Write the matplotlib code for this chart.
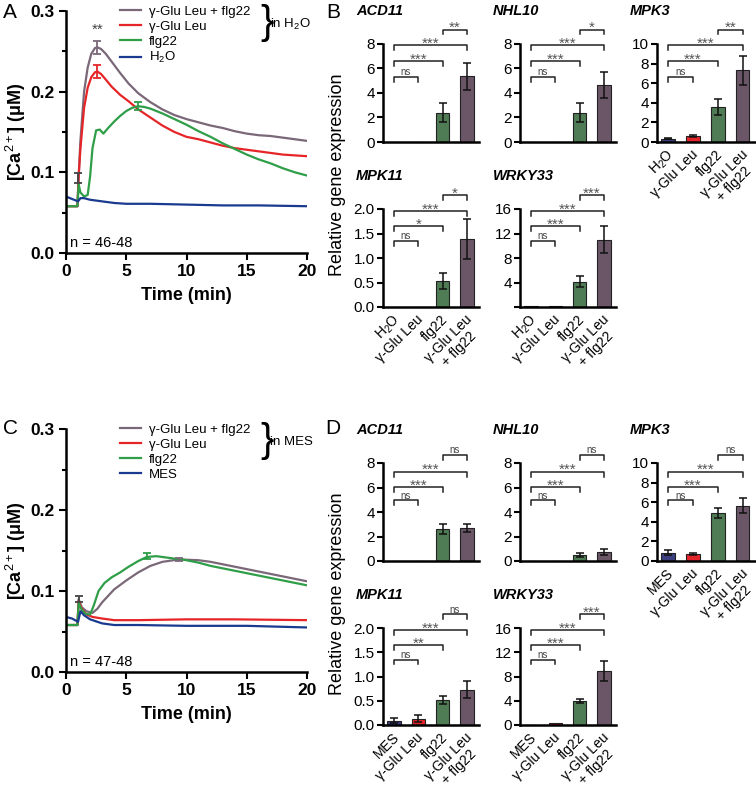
import matplotlib
matplotlib.use('Agg')
import matplotlib.pyplot as plt
import matplotlib.transforms as mtransforms

plt.rcParams['font.family'] = ['Liberation Sans', 'DejaVu Sans']
plt.rcParams['mathtext.fontset'] = 'custom'
plt.rcParams['mathtext.rm'] = 'Liberation Sans'
plt.rcParams['mathtext.it'] = 'Liberation Sans:italic'
plt.rcParams['mathtext.bf'] = 'Liberation Sans:bold'

# ---- time course data ----
# panel A, in H2O
tA_gxf = [0, 0.95, 1.05, 1.2, 1.5, 1.8, 2.1, 2.4, 2.6, 2.9, 3.3, 3.8, 4.5, 5.2, 6, 7, 8, 9, 10, 11, 12, 13, 14, 15, 16, 17, 18, 19, 20]
yA_gxf = [.058, .058, .095, .14, .2, .23, .247, .254, .255, .253, .247, .237, .223, .21, .198, .187, .178, .171, .166, .162, .158, .155, .151, .148, .146, .145, .143, .141, .139]
tA_glu = [0, 0.95, 1.05, 1.2, 1.5, 1.8, 2.1, 2.4, 2.6, 2.9, 3.3, 3.8, 4.5, 5.2, 6, 7, 8, 9, 10, 11, 12, 13, 14, 15, 16, 17, 18, 19, 20]
yA_glu = [.058, .058, .095, .13, .18, .205, .218, .224, .225, .222, .215, .206, .196, .188, .178, .168, .158, .150, .144, .141, .137, .133, .130, .128, .126, .124, .122, .121, .120]
tA_flg = [0, 0.95, 1.05, 1.2, 1.5, 1.8, 2.0, 2.2, 2.5, 2.8, 3.1, 3.5, 4, 4.5, 5, 5.5, 6, 6.5, 7, 8, 9, 10, 11, 12, 13, 14, 15, 16, 17, 18, 19, 20]
yA_flg = [.058, .058, .085, .075, .07, .072, .095, .13, .152, .153, .148, .155, .163, .17, .176, .18, .182, .181, .179, .173, .166, .159, .151, .144, .136, .129, .122, .116, .111, .105, .100, .096]
tA_ctl = [0, 0.5, 1.0, 1.2, 1.5, 2, 3, 4, 5, 7, 10, 13, 16, 20]
yA_ctl = [.07, .067, .064, .068, .068, .066, .064, .062, .061, .061, .060, .059, .059, .058]

# panel C, in MES
tC_gxf = [0, 0.95, 1.05, 1.3, 1.7, 2.2, 2.6, 3.0, 3.5, 4, 5, 6, 7, 8, 9.4, 11, 12, 13, 14, 15, 16, 17, 18, 19, 20]
yC_gxf = [.058, .058, .09, .08, .075, .073, .078, .086, .094, .102, .113, .123, .131, .136, .139, .138, .136, .133, .130, .127, .124, .121, .118, .115, .112]
tC_glu = [0, 0.95, 1.05, 1.3, 1.7, 2.2, 3, 4, 6, 10, 14, 20]
yC_glu = [.058, .058, .088, .078, .071, .068, .066, .064, .064, .065, .065, .064]
tC_flg = [0, 0.95, 1.05, 1.3, 1.6, 2.0, 2.3, 2.7, 3.2, 3.8, 4.5, 5.2, 6.0, 6.7, 7.5, 8.5, 10, 11, 12, 13, 14, 15, 16, 17, 18, 19, 20]
yC_flg = [.058, .058, .085, .077, .072, .071, .082, .1, .11, .117, .123, .13, .137, .142, .143, .141, .138, .135, .131, .128, .125, .122, .119, .116, .113, .110, .107]
tC_ctl = [0, 0.5, 1.0, 1.2, 1.5, 2, 3, 4, 6, 10, 15, 20]
yC_ctl = [.068, .066, .062, .075, .07, .065, .06, .058, .058, .057, .057, .055]

# error bars: (time, mean, sem) and which colour they take
errA = [(2.6, .255, .008), (2.6, .225, .008), (6.0, .182, .005), (1.0, .093, .006)]
errA_col = ['#7a6878', '#e52528', '#2f9e48', '#444444']
errC = [(6.7, .143, .004), (9.4, .139, .002), (1.1, .090, .004)]
errC_col = ['#2f9e48', '#7a6878', '#444444']

line_labels = ['γ-Glu Leu + flg22', 'γ-Glu Leu', 'flg22']
line_colors = ['#7a6878', '#e52528', '#2f9e48', '#1a3a8f']

# ---- qPCR data ----
genes = ['ACD11', 'NHL10', 'MPK3', 'MPK11', 'WRKY33']
b_mean = {'ACD11': [0, 0, 2.4, 5.35], 'NHL10': [0, 0.03, 2.4, 4.65], 'MPK3': [0.35, 0.6, 3.55, 7.3],
          'MPK11': [0, 0, 0.53, 1.38], 'WRKY33': [0.1, 0.2, 4.1, 11.0]}
b_err = {'ACD11': [0, 0, 0.8, 1.1], 'NHL10': [0, 0, 0.75, 1.05], 'MPK3': [0.05, 0.08, 0.8, 1.5],
         'MPK11': [0, 0, 0.16, 0.41], 'WRKY33': [0, 0, 0.9, 2.2]}
b_sig = {'ACD11': ['ns', '***', '***', '**'], 'NHL10': ['ns', '***', '***', '*'], 'MPK3': ['ns', '***', '***', '**'],
         'MPK11': ['ns', '*', '***', '*'], 'WRKY33': ['ns', '***', '***', '***']}
d_mean = {'ACD11': [0, 0, 2.6, 2.7], 'NHL10': [0, 0, 0.5, 0.75], 'MPK3': [0.85, 0.7, 4.9, 5.65],
          'MPK11': [0.09, 0.13, 0.52, 0.73], 'WRKY33': [0.05, 0.25, 3.9, 8.9]}
d_err = {'ACD11': [0, 0, 0.4, 0.3], 'NHL10': [0, 0, 0.15, 0.25], 'MPK3': [0.25, 0.1, 0.5, 0.75],
         'MPK11': [0.05, 0.07, 0.08, 0.18], 'WRKY33': [0, 0, 0.35, 1.6]}
d_sig = {'ACD11': ['ns', '***', '***', 'ns'], 'NHL10': ['ns', '***', '***', 'ns'], 'MPK3': ['ns', '***', '***', 'ns'],
         'MPK11': ['ns', '**', '***', 'ns'], 'WRKY33': ['ns', '***', '***', '***']}
yticks = {'ACD11': [0, 2, 4, 6, 8], 'NHL10': [0, 2, 4, 6, 8], 'MPK3': [0, 2, 4, 6, 8, 10],
          'MPK11': [0, 0.5, 1.0, 1.5, 2.0], 'WRKY33': [0, 4, 8, 12, 16]}
pairs = [(0, 1), (0, 2), (0, 3), (2, 3)]
bar_colors = ['#3b3f80', '#e3242b', '#4f7b55', '#6b5667']

W, H = 756, 796
fig = plt.figure(figsize=(W / 100, H / 100), dpi=100)


def add_ax(left, top, right, bottom):
    return fig.add_axes([left / W, 1 - bottom / H, (right - left) / W, (bottom - top) / H])


def ftext(x, y, s, **kw):
    fig.text(x / W, 1 - y / H, s, **kw)


def shift(dx, dy):
    return mtransforms.ScaledTranslation(dx / 100, dy / 100, fig.dpi_scale_trans)


def time_panel(top, bottom, curves, errs, err_cols, medium, nlabel):
    ax = add_ax(66, top, 307, bottom)
    for (t, y), c in zip(curves, line_colors):
        ax.plot(t, y, color=c, lw=1.6, solid_joinstyle='round')
    for (t, m, e), c in zip(errs, err_cols):
        ax.errorbar([t], [m], yerr=[e], color=c, capsize=3, lw=1.3, capthick=1.3)
    ax.set_xlim(0, 20)
    ax.set_ylim(0, 0.3)
    ax.set_xticks([0, 5, 10, 15, 20])
    ax.set_yticks([0.0, 0.1, 0.2, 0.3])
    ax.set_yticks([0.05, 0.15, 0.25], minor=True)
    ax.yaxis.set_major_formatter(matplotlib.ticker.FormatStrFormatter('%.1f'))
    for s in ['top', 'right']:
        ax.spines[s].set_visible(False)
    for s in ['left', 'bottom']:
        ax.spines[s].set_linewidth(1.8)
    ax.tick_params(width=1.5, length=5, labelsize=12.5, pad=3)
    ax.tick_params(which='minor', width=1.5, length=3)
    for lab in ax.get_xticklabels() + ax.get_yticklabels():
        lab.set_fontweight('bold')
    ax.set_xlabel('Time (min)', fontsize=13, fontweight='bold', labelpad=6)
    ax.set_ylabel(r'[Ca$^{2+}$] (μM)', fontsize=13, fontweight='bold', labelpad=2)
    ax.text(0.3, 0.004, nlabel, fontsize=10.5, va='bottom', ha='left')
    labels = line_labels + [medium]
    handles = ax.get_lines()[:4]
    ax.legend(handles, labels, loc='upper left', bbox_to_anchor=(0.225, 1.022), frameon=False,
              fontsize=9.5, handlelength=1.6, handletextpad=0.55, labelspacing=0.2,
              borderpad=0, borderaxespad=0)
    ax.text(0.805, 0.952, '}', transform=ax.transAxes, fontsize=29, va='center', ha='left')
    ax.text(0.848, 0.945, 'in ' + medium, transform=ax.transAxes, fontsize=9.5, va='center', ha='left')
    return ax


axA = time_panel(11, 253, [(tA_gxf, yA_gxf), (tA_glu, yA_glu), (tA_flg, yA_flg), (tA_ctl, yA_ctl)],
                 errA, errA_col, r'H$_2$O', 'n = 46-48')
axA.text(2.6, 0.277, '**', ha='center', va='center', fontsize=11, color='#444444')
axC = time_panel(429, 672, [(tC_gxf, yC_gxf), (tC_glu, yC_glu), (tC_flg, yC_flg), (tC_ctl, yC_ctl)],
                 errC, errC_col, 'MES', 'n = 47-48')

col_left = [383, 520, 657]
col_right = [479, 616, 755]
layout = [(0, 0, 'ACD11'), (0, 1, 'NHL10'), (0, 2, 'MPK3'), (1, 0, 'MPK11'), (1, 1, 'WRKY33')]


def bar_panel(rows, means, errs, sigs, ctl_name, heights, wrky_zero):
    xlabels = [ctl_name, 'γ-Glu Leu', 'flg22', 'γ-Glu Leu']
    for r, c, g in layout:
        top, bottom = rows[r]
        ax = add_ax(col_left[c], top, col_right[c], bottom)
        x = [0, 1, 2, 3]
        ax.bar(x, means[g], width=0.55, color=bar_colors, edgecolor='#222222', lw=0.8, zorder=2)
        for xi, m, e in zip(x, means[g], errs[g]):
            if e > 0:
                ax.errorbar([xi], [m], yerr=[e], color='#111111', capsize=3, lw=1.1, capthick=1.1, zorder=3)
        ax.set_xlim(-0.45, 3.5)
        ax.set_ylim(0, yticks[g][-1])
        ax.set_yticks(yticks[g])
        if g == 'MPK11':
            ax.set_yticklabels(['%.1f' % v for v in yticks[g]])
        elif g == 'WRKY33' and not wrky_zero:
            ax.set_yticklabels([''] + [str(v) for v in yticks[g][1:]])
        for s in ['top', 'right']:
            ax.spines[s].set_visible(False)
        for s in ['left', 'bottom']:
            ax.spines[s].set_linewidth(1.8)
        ax.tick_params(axis='y', width=1.5, length=4, labelsize=11, pad=2)
        ax.tick_params(axis='x', length=0, labelsize=10, pad=0)
        trans = mtransforms.blended_transform_factory(ax.transData, ax.transAxes)
        if r == 1 or c == 2:
            ax.set_xticks(x)
            ax.set_xticklabels(xlabels, rotation=45, ha='right', va='top', rotation_mode='anchor')
            for lab in ax.get_xticklabels():
                lab.set_transform(lab.get_transform() + shift(-2, -5))
            # second line of the last label, centred under the first one
            ax.text(3, 0, '+ flg22', transform=trans + shift(-2 + 3.9, -5 - 16.6), rotation=45,
                    rotation_mode='anchor', ha='right', va='top', fontsize=10)
        else:
            ax.set_xticks([])
        hts = heights[r]
        for (i, j), h, s in zip(pairs, hts, sigs[g]):
            ax.plot([i, i, j, j], [h - 0.05, h, h, h - 0.05], color='#222222', lw=1.1,
                    transform=trans, clip_on=False)
            if s == 'ns':
                ax.text((i + j) / 2, h + 0.015, s, transform=trans, ha='center', va='baseline',
                        fontsize=7, color='#444444')
            else:
                ax.text((i + j) / 2, h - 0.025, s, transform=trans, ha='center', va='baseline',
                        fontsize=11, color='#555555')
        ftext(col_left[c] - 27, top - 33, g, fontsize=10.5, fontstyle='italic', fontweight='bold',
              va='center', ha='left')


hB = [[0.667, 0.828, 0.986, 1.147], [0.675, 0.825, 0.98, 1.14]]
hD = [[0.62, 0.755, 0.91, 1.085], [0.675, 0.825, 0.98, 1.14]]
bar_panel([(44, 142), (209, 307)], b_mean, b_err, b_sig, r'H$_2$O', hB, False)
bar_panel([(463, 561), (628, 725)], d_mean, d_err, d_sig, 'MES', hD, True)

ftext(338, 175, 'Relative gene expression', fontsize=13, rotation=90, va='center', ha='center')
ftext(338, 594, 'Relative gene expression', fontsize=13, rotation=90, va='center', ha='center')

for lx, ly, lt in [(10, 12, 'A'), (333, 12, 'B'), (10, 429, 'C'), (333, 429, 'D')]:
    ftext(lx, ly, lt, fontsize=15, va='center', ha='center')

fig.savefig('out.png', dpi=100)
